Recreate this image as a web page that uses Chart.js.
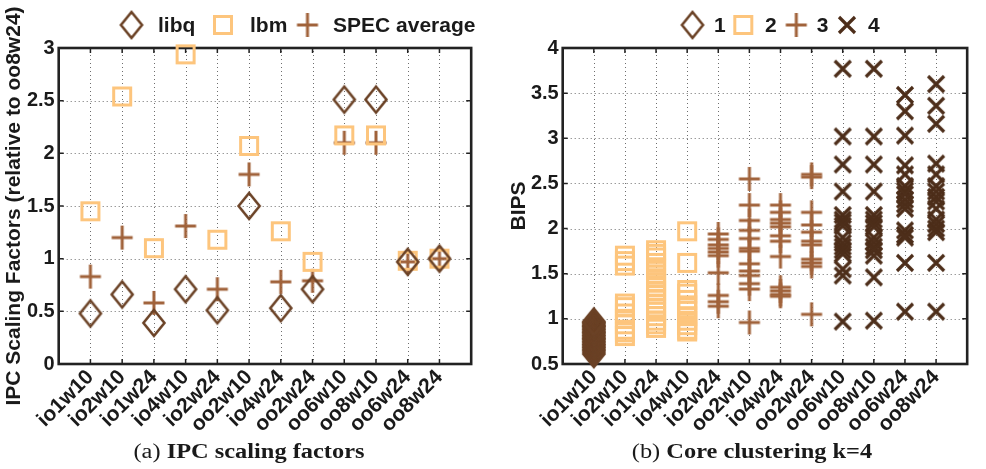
<!DOCTYPE html>
<html>
<head>
<meta charset="utf-8">
<script src="https://cdn.jsdelivr.net/npm/chart.js@4.4.1/dist/chart.umd.min.js"></script>
<style>
  body { margin: 0; background: #fff; width: 986px; height: 469px; overflow: hidden; position: relative; }
  canvas { position: absolute; top: 0; }
  #ipc { left: 0; }
  #bips { left: 490px; }
  .cap { position: absolute; top: 440px; font-family: "Liberation Serif", serif; font-size: 20.5px; color: #1a1a1a; white-space: nowrap; transform: translateX(-50%) scaleX(1.19); }
</style>
</head>
<body>
<canvas id="ipc" width="490" height="469" style="width:490px;height:469px"></canvas>
<canvas id="bips" width="496" height="469" style="width:496px;height:469px"></canvas>
<div class="cap" style="left:249px">(a) <b>IPC scaling factors</b></div>
<div class="cap" style="left:752px">(b) <b>Core clustering k=4</b></div>
<script>
const configs = ['io1w10','io2w10','io1w24','io4w10','io2w24','oo2w10','io4w24','oo2w24','oo6w10','oo8w10','oo6w24','oo8w24'];

// (a) IPC scaling factors, relative to oo8w24
const libq    = [0.48, 0.66, 0.39, 0.71, 0.51, 1.50, 0.53, 0.71, 2.51, 2.51, 0.97, 1.00];
const lbm     = [1.45, 2.54, 1.10, 2.94, 1.18, 2.07, 1.26, 0.97, 2.17, 2.17, 0.98, 1.00];
const specAvg = [0.83, 1.20, 0.58, 1.31, 0.71, 1.80, 0.78, 0.79, 2.10, 2.10, 0.97, 1.00];

// (b) BIPS per config, and which cluster (k=4) each config falls in
const clusterOf = [1, 2, 2, 2, 3, 3, 3, 3, 4, 4, 4, 4];
const bipsIo1w10 = [0.61,0.63,0.65,0.66,0.68,0.69,0.71,0.72,0.74,0.75,0.77,0.78,0.79,0.81,0.82,0.84,0.85,0.86,0.88,0.89,0.91,0.92,0.93,0.95,0.96,0.97];
const bipsIo2w10 = [1.70,1.64,1.59,1.17,1.13,1.06,1.00,0.94,0.88,0.85,0.81];
const bipsIo1w24 = [1.76,1.72,1.68,1.62,1.56,1.49,1.45,1.40,1.35,1.31,1.27,1.22,1.17,1.12,1.08,1.03,0.98,0.94,0.90];
const bipsIo4w10 = [1.97,1.62,1.32,1.28,1.21,1.15,1.09,1.03,0.98,0.93,0.88,0.86];
const bipsIo2w24 = [1.94,1.88,1.82,1.78,1.74,1.70,1.51,1.26,1.19,1.14];
const bipsOo2w10 = [2.55,2.26,2.09,1.98,1.89,1.78,1.75,1.61,1.53,1.48,1.39,1.33,0.96];
const bipsIo4w24 = [2.26,2.18,2.10,2.06,2.02,1.92,1.86,1.69,1.35,1.31,1.27,1.25];
const bipsOo2w24 = [2.60,2.57,2.18,2.04,1.96,1.86,1.82,1.66,1.62,1.58,1.05];
const bipsOo6w10 = [3.77,3.02,2.71,2.41,2.15,2.10,2.07,2.03,1.90,1.84,1.80,1.76,1.72,1.55,1.48,0.97];
const bipsOo8w10 = [3.77,3.02,2.71,2.41,2.15,2.10,2.06,2.02,1.90,1.85,1.80,1.76,1.70,1.46,0.98];
const bipsOo6w24 = [3.48,3.30,3.03,2.70,2.60,2.47,2.42,2.38,2.32,2.27,2.22,1.98,1.93,1.90,1.62,1.08];
const bipsOo8w24 = [3.60,3.36,3.16,2.72,2.60,2.47,2.41,2.35,2.30,2.22,2.10,2.05,2.00,1.96,1.62,1.08];
const bipsAll = [bipsIo1w10, bipsIo2w10, bipsIo1w24, bipsIo4w10, bipsIo2w24, bipsOo2w10,
                 bipsIo4w24, bipsOo2w24, bipsOo6w10, bipsOo8w10, bipsOo6w24, bipsOo8w24];

const DARK = '#6b4226', LIGHT = '#fdc57d', MID = '#a0623a', DARKEST = '#4d2e1a', INK = '#1a1a1a';
const FONT = '"Liberation Sans", Arial, sans-serif';

// marker glyphs drawn once to small canvases, used as point styles
function marker(kind, color) {
  const c = document.createElement('canvas');
  c.width = 28; c.height = 32;
  const g = c.getContext('2d');
  const cx = 14, cy = 16;
  g.strokeStyle = color;
  g.lineWidth = 3;
  g.beginPath();
  if (kind === 'diamond') {
    g.lineWidth = 2.6;
    g.moveTo(cx, cy - 13); g.lineTo(cx + 10.5, cy); g.lineTo(cx, cy + 13); g.lineTo(cx - 10.5, cy);
    g.closePath();
  } else if (kind === 'square') {
    g.rect(cx - 8.5, cy - 8.5, 17, 17);
  } else if (kind === 'plus') {
    g.moveTo(cx - 10.5, cy); g.lineTo(cx + 10.5, cy);
    g.moveTo(cx, cy - 12); g.lineTo(cx, cy + 12);
  } else {
    g.lineWidth = 3.2;
    g.moveTo(cx - 8, cy - 8); g.lineTo(cx + 8, cy + 8);
    g.moveTo(cx + 8, cy - 8); g.lineTo(cx - 8, cy + 8);
  }
  g.stroke();
  return c;
}
const mDiamond = marker('diamond', DARK);
const mSquare = marker('square', LIGHT);
const mPlus = marker('plus', MID);
const mCross = marker('cross', DARKEST);

// dotted grid, thick frame with small inward ticks, plus a hand placed legend
const framePlugin = {
  id: 'frame',
  beforeDatasetsDraw(chart) {
    const { ctx, chartArea: a, scales: { x, y } } = chart;
    ctx.save();
    ctx.strokeStyle = '#6e6e6e';
    ctx.lineWidth = 1;
    ctx.setLineDash([1, 3]);
    ctx.beginPath();
    y.ticks.forEach(t => {
      if (t.value <= y.min || t.value >= y.max) return;
      const py = Math.round(y.getPixelForValue(t.value)) + 0.5;
      ctx.moveTo(a.left, py); ctx.lineTo(a.right, py);
    });
    for (let i = 1; i <= configs.length; i++) {
      const px = Math.round(x.getPixelForValue(i)) + 0.5;
      ctx.moveTo(px, a.bottom); ctx.lineTo(px, a.top);
    }
    ctx.stroke();
    ctx.setLineDash([]);
    ctx.strokeStyle = '#222';
    ctx.lineWidth = 1.5;
    ctx.beginPath();
    y.ticks.forEach(t => {
      const py = y.getPixelForValue(t.value);
      ctx.moveTo(a.left, py); ctx.lineTo(a.left + 5, py);
      ctx.moveTo(a.right, py); ctx.lineTo(a.right - 5, py);
    });
    for (let i = 1; i <= configs.length; i++) {
      const px = x.getPixelForValue(i);
      ctx.moveTo(px, a.top); ctx.lineTo(px, a.top + 5);
      ctx.moveTo(px, a.bottom); ctx.lineTo(px, a.bottom - 5);
    }
    ctx.stroke();
    ctx.lineWidth = 2.6;
    ctx.strokeRect(a.left, a.top, a.right - a.left, a.bottom - a.top);
    ctx.restore();
  },
  afterDraw(chart, args, opts) {
    const ctx = chart.ctx;
    ctx.save();
    ctx.font = 'bold 21px ' + FONT;
    ctx.fillStyle = INK;
    ctx.textBaseline = 'middle';
    opts.items.forEach(it => {
      ctx.drawImage(it.img, it.mx - it.img.width / 2, opts.y - it.img.height / 2);
      ctx.fillText(it.text, it.tx, opts.y + 1);
    });
    ctx.restore();
  }
};

function axes(yMin, yMax, yTitle, yWidth) {
  const tickFont = { family: FONT, size: 20, weight: 'bold' };
  return {
    x: {
      type: 'linear', min: 0, max: configs.length + 1,
      afterFit: s => { s.height = 105; },
      afterBuildTicks: s => { s.ticks = []; for (let i = 0; i <= configs.length + 1; i++) s.ticks.push({ value: i }); },
      grid: { display: false, drawTicks: false },
      border: { display: false },
      ticks: {
        autoSkip: false, maxRotation: 45, minRotation: 45, padding: 1, color: INK,
        font: { family: FONT, size: 21, weight: 'bold' },
        callback: v => configs[v - 1] || ''
      }
    },
    y: {
      min: yMin, max: yMax,
      afterFit: s => { s.width = yWidth; },
      grid: { display: false, drawTicks: false },
      border: { display: false },
      ticks: { stepSize: 0.5, padding: 4, color: INK, font: tickFont, callback: v => String(+v.toFixed(2)) },
      title: { display: true, text: yTitle, color: INK, font: { family: FONT, size: 21, weight: 'bold' }, padding: { top: 2, bottom: 0 } }
    }
  };
}

function pts(vals) { return vals.map((v, i) => ({ x: i + 1, y: v })); }

const common = {
  responsive: false, animation: false, events: [],
  plugins: { legend: { display: false }, tooltip: { enabled: false } }
};

new Chart(document.getElementById('ipc'), {
  type: 'scatter',
  data: {
    datasets: [
      { label: 'libq', data: pts(libq), pointStyle: mDiamond, clip: false },
      { label: 'lbm', data: pts(lbm), pointStyle: mSquare, clip: false },
      { label: 'SPEC average', data: pts(specAvg), pointStyle: mPlus, clip: false }
    ]
  },
  options: {
    ...common,
    layout: { padding: { left: 0, right: 8, top: 48, bottom: 0 } },
    scales: axes(0, 3, 'IPC Scaling Factors (relative to oo8w24)', 58.7),
    plugins: {
      ...common.plugins,
      frame: {
        y: 25,
        items: [
          { img: mDiamond, mx: 131.5, tx: 158, text: 'libq' },
          { img: mSquare, mx: 223, tx: 250, text: 'lbm' },
          { img: mPlus, mx: 307.5, tx: 333, text: 'SPEC average' }
        ]
      }
    }
  },
  plugins: [framePlugin]
});

const clusterMarks = [mDiamond, mSquare, mPlus, mCross];
const clusterSets = clusterMarks.map((m, k) => ({
  label: String(k + 1),
  data: bipsAll.flatMap((vals, i) => clusterOf[i] === k + 1 ? vals.map(v => ({ x: i + 1, y: v })) : []),
  pointStyle: m,
  clip: false
}));

new Chart(document.getElementById('bips'), {
  type: 'scatter',
  data: { datasets: clusterSets },
  options: {
    ...common,
    layout: { padding: { left: 14.5, right: 2.7, top: 48, bottom: 0 } },
    scales: axes(0.5, 4, 'BIPS', 58.2),
    plugins: {
      ...common.plugins,
      frame: {
        y: 25,
        items: [
          { img: mDiamond, mx: 202.5, tx: 224, text: '1' },
          { img: mSquare, mx: 253.3, tx: 275, text: '2' },
          { img: mPlus, mx: 306.3, tx: 326.7, text: '3' },
          { img: mCross, mx: 357, tx: 378, text: '4' }
        ]
      }
    }
  },
  plugins: [framePlugin]
});
</script>
</body>
</html>
